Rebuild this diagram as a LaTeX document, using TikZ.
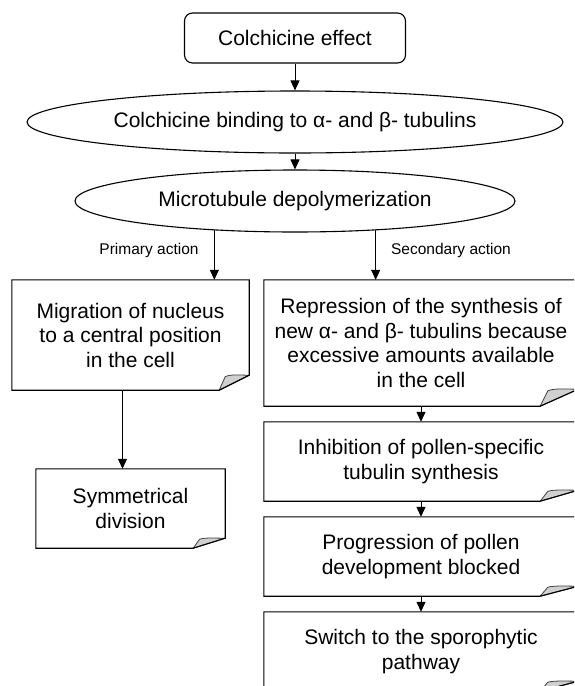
\documentclass[tikz,border=0pt]{standalone}
\usepackage{fontspec}
\setmainfont{Liberation Sans}
\usetikzlibrary{arrows.meta,shapes.geometric}
\definecolor{flapgrey}{HTML}{D0D0D0}
\definecolor{flapedge}{HTML}{404040}
\newcommand\FoldOutline[3]{%
  \filldraw[fill=flapgrey,draw=flapedge,line width=0.8pt,line join=round]
    ([xshift=-#2pt]#1.south east)
    -- ([xshift=-0.8*#2pt,yshift=0.9*#3pt]#1.south east)
    .. controls ([xshift=-0.62*#2pt,yshift=1.08*#3pt]#1.south east)
    and ([xshift=-0.3*#2pt,yshift=1.0*#3pt]#1.south east)
    .. ([yshift=#3pt]#1.south east) -- cycle;
  \draw[boxline] (#1.north west) -- (#1.north east)
    -- ([yshift=#3pt]#1.south east) -- ([xshift=-#2pt]#1.south east)
    -- (#1.south west) -- cycle;
}
\begin{document}
\begin{tikzpicture}[x=1pt,y=-1pt,
  txt/.style={font=\fontsize{21}{24.5}\selectfont, align=center, inner sep=0pt},
  small/.style={font=\fontsize{15.5}{18}\selectfont, inner sep=0pt},
  boxline/.style={draw=black, line width=1.1pt, line join=miter},
  textbox/.style={txt, shape=rectangle},
  oval/.style={txt, draw, ellipse, line width=1.1pt},
  arr/.style={-{Triangle[width=9pt,length=10pt]}, line width=1pt}]
\useasboundingbox (0,0) rectangle (574,686);
\clip (0,0) rectangle (574,686);
\fill[white] (0,0) rectangle (574,686);

\node[txt, draw, rounded corners=8pt, line width=1.1pt, minimum width=221pt, minimum height=50pt] (top) at (295,38) {Colchicine effect};
\node[oval, minimum width=536pt, minimum height=62pt] (e1) at (295,122) {Colchicine binding to α- and β- tubulins};
\node[oval, minimum width=440pt, minimum height=62pt] (e2) at (295,201) {Microtubule depolymerization};

\node[textbox, minimum width=237pt, minimum height=110pt] (lb1) at (130.5,335) {Migration of nucleus\\to a central position\\in the cell};
\node[textbox, minimum width=189pt, minimum height=79pt] (sym) at (130.5,508.5) {Symmetrical\\division};
\node[textbox, minimum width=314pt, minimum height=126pt] (rb1) at (421,343) {Repression of the synthesis of\\new α- and β- tubulins because\\excessive amounts available\\in the cell};
\node[textbox, minimum width=314pt, minimum height=79pt] (rb2) at (421,461.5) {Inhibition of pollen-specific\\tubulin synthesis};
\node[textbox, minimum width=314pt, minimum height=79pt] (rb3) at (421,556.5) {Progression of pollen\\development blocked};
\node[textbox, minimum width=314pt, minimum height=79pt] (rb4) at (421,651.5) {Switch to the sporophytic\\pathway};

\FoldOutline{lb1}{30}{15}
\FoldOutline{sym}{32}{10}
\FoldOutline{rb1}{38}{17}
\FoldOutline{rb2}{38}{11}
\FoldOutline{rb3}{38}{10}
\FoldOutline{rb4}{38}{10}

\node[small] (lab1) at (149,250) {Primary action};
\node[small] (lab2) at (451,250) {Secondary action};

\draw[arr] (top) -- (e1);
\draw[arr] (e1) -- (e2);
\draw[arr] (e2.200) -- (e2.200 |- lb1.north);
\draw[arr] (e2.340) -- (e2.340 |- rb1.north);
\draw[arr] ([xshift=-8pt]lb1.south) -- ([xshift=-8pt]lb1.south |- sym.north);
\draw[arr] (rb1) -- (rb2);
\draw[arr] (rb2) -- (rb3);
\draw[arr] (rb3) -- (rb4);
\end{tikzpicture}
\end{document}
